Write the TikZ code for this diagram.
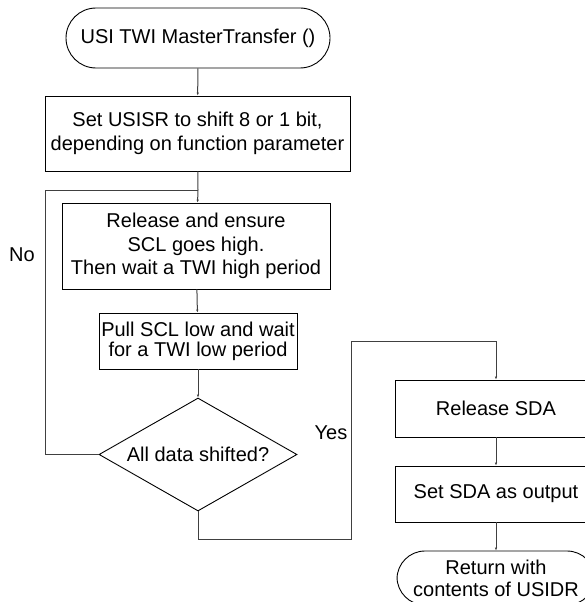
\documentclass[tikz,border=0pt]{standalone}
\usepackage{fontspec}
\setmainfont{Liberation Sans}
\usetikzlibrary{arrows.meta,shapes.geometric,positioning,calc}
\tikzset{box/.style={rectangle, draw=black, line width=0.9pt, align=center,
    inner sep=2pt, font=\fontsize{20}{23.5}\selectfont},
  term/.style={box, rounded corners=28pt},
  decide/.style={diamond, draw=black, line width=0.9pt, aspect=1.75, inner sep=0pt,
    font=\fontsize{20}{23.5}\selectfont},
  flow/.style={draw=black!75, line width=1pt, -{Latex[length=3pt,width=2.5pt]}},
  wire/.style={draw=black!75, line width=1pt},
  lbl/.style={font=\fontsize{20}{23.5}\selectfont}}

\begin{document}
\begin{tikzpicture}[x=1pt,y=-1pt]
        \useasboundingbox (0,0) rectangle (585,602);
        \node[term, minimum width=264pt, minimum height=60pt, rounded corners=30pt] (start) at (198,38) {USI TWI MasterTransfer ()};
        \node[box, minimum width=305pt, minimum height=75pt] (setsr) at (197.5,133.5) {Set USISR to shift 8 or 1 bit,\\depending on function parameter};
        \node[box, minimum width=268pt, minimum height=86pt] (release) at (196,246) {Release and ensure\\SCL goes high.\\Then wait a TWI high period};
        \node[box, minimum width=198pt, minimum height=56pt, font=\fontsize{20}{20}\selectfont] (pull) at (198,341) {Pull SCL low and wait\\for a TWI low period};
        \node[decide, minimum width=198pt, minimum height=113pt] (shifted) at (198,454.5) {All data shifted?};
        \node[box, minimum width=202pt, minimum height=57pt] (relsda) at (496,408.5) {Release SDA};
        \node[box, minimum width=202pt, minimum height=56pt] (outsda) at (496,494) {Set SDA as output};
        \node[term, minimum width=198pt, minimum height=54pt, font=\fontsize{20}{22}\selectfont] (ret) at (496,578) {Return with\\contents of USIDR};

        \node[lbl] (no) at (22,255) {No};
        \node[lbl] (yes) at (331,433) {Yes};

        \coordinate (join) at (198,190);
        \coordinate (back) at (45,190);
        \coordinate (down) at (351,539);
        \coordinate (up) at (351,341);

        \draw[flow] (start) -- (setsr);
        \draw[wire] (setsr) -- (join);
        \draw[flow] (join) -- (release);
        \draw[flow] (release) -- (pull);
        \draw[flow] (pull) -- (shifted);
        % no: loop back
        \draw[wire] (shifted.west) -| (back) -- (join);
        % yes
        \draw[flow] (shifted.south) |- (down) -- (up) -| (relsda.north);
        \draw[flow] (relsda) -- (outsda);
        \draw[flow] (outsda) -- (ret);
    \end{tikzpicture}
\end{document}
